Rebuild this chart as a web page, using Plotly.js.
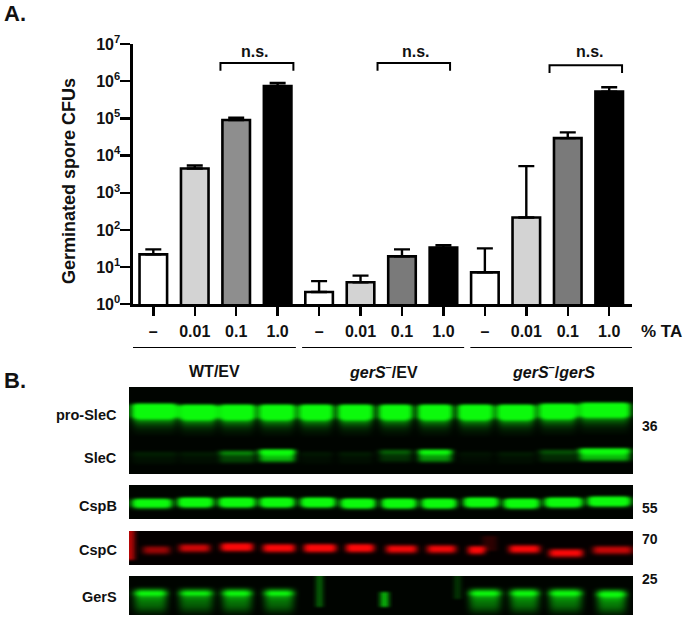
<!DOCTYPE html>
<html>
<head>
<meta charset="utf-8">
<script src="https://cdn.plot.ly/plotly-3.0.1.min.js"></script>
<style>html,body{margin:0;padding:0;background:#fff}</style>
</head>
<body>
<div id="chart" style="width:684px;height:617px"></div>
<script>
// panel A
var doseLabels = ['–','0.01','0.1','1.0','–','0.01','0.1','1.0','–','0.01','0.1','1.0'];
var cfuMean = [22,4500,90000,740000,2.15,3.9,19.5,33.5,7.2,215,29500,525000];
var cfuUpper = [30,5400,105000,890000,4.2,5.9,30,39,32,5200,42000,690000];
var barColors = ['#ffffff','#d3d3d3','#8e8e8e','#000000','#ffffff','#d3d3d3','#7a7a7a','#000000','#ffffff','#d3d3d3','#7a7a7a','#000000'];
var decades = [1,10,100,1000,10000,100000,1000000,10000000];
var decadeLabels = ['10<sup>0</sup>','10<sup>1</sup>','10<sup>2</sup>','10<sup>3</sup>','10<sup>4</sup>','10<sup>5</sup>','10<sup>6</sup>','10<sup>7</sup>'];
var bracketFrom = [1.62,5.41,9.56];
var bracketTo = [3.38,7.16,11.31];
var bracketTop = [3100000,3100000,2700000];
var bracketFoot = [1900000,1900000,1650000];
var groupFrom = [-0.49,3.59,7.65];
var groupTo = [3.44,7.5,11.58];
var groupNames = ['WT/EV','<i>gerS</i><sup>–</sup>/EV','<i>gerS</i><sup>–</sup>/<i>gerS</i>'];

var sleLaneStart = [2,49,89,129,169,208,249,288,328,367,409,449];
var sleLaneEnd = [48,88,126,166,204,244,283,323,364,406,448,501];
var proSleCTop = [14,15,15,15,15,15,15,15,15,15,14,13];
var proSleCLevel = [1,1,1,1,1,1,.95,1,1,1,1,.85];
var proSleCProfile = [.05,.5,1.2,2,2.4,2.4,2.4,2.4,2.4,2.4,2.4,2.4,2.4,2.3,2,1.5,1,.7,.55,.45,.38,.32,.27,.22,.18,.15,.12,.1,.08,.06,.05,.04,.03,.02];
var sleCTop = [62,62,61,60,62,62,60,60,62,62,60,59];
var sleCLevel = [.07,.06,.34,1,.05,.06,.24,.8,.04,.06,.2,1];
var sleCProfile = [.1,.6,1.1,1.5,1.6,1.3,1,.85,.78,.75,.72,.68,.6,.4,.2,.08];
var cspBLaneStart = [2,48,89,130,171,211,252,292,334,374,415,458];
var cspBLaneEnd = [43,84,126,165,206,246,287,327,369,410,453,501];
var cspBTop = [11,10,10,10,10,11,11,11,10,11,10,9];
var cspBLevel = [.75,1,1,1,1,1,1,1,1,1,1,1];
var cspBProfile = [.08,.5,1.2,2,2.4,2.4,2.4,2.4,2.2,1.7,1,.5,.2,.08];
var cspCLaneStart = [13,49,91,133,174,216,256,297,338,379,419,463];
var cspCLaneEnd = [41,81,124,166,207,245,288,327,356,411,454,503];
var cspCTop = [12,10,9,10,10,10,11,11,12,11,15,12];
var cspCLevel = [.5,.68,1,.92,1,1,.8,.8,.95,.85,.85,.65];
var cspCProfile = [.05,.25,.6,.95,1.15,1.2,1.2,1.15,.95,.65,.35,.15,.05];
var gerSLaneStart = [3,48,91,133,170,210,250,290,338,379,418,466];
var gerSLaneEnd = [39,85,124,166,200,240,280,320,373,411,454,498];
var gerSTop = [9,9,9,9,9,9,9,9,9,9,9,10];
var gerSLevel = [.85,.75,.85,.8,0,0,0,0,.85,.88,.88,.95];
var gerSProfile = [.05,.15,.3,.5,.7,.95,1.25,1.4,1.25,1,.8,.72,.66,.62,.58,.55,.52,.5,.48,.46,.42,.38,.34,.3,.25,.2,.16,.12,.08,.05];
// faint streaks and smears on the membranes: x from, x to, row from, row to, level
var cspCSmears = [[0,4,0,28,.7],[354,367,4,19,.16]];
var gerSSmears = [[188,192,0,30,.4],[252,258,15,30,.7],[326,330,0,22,.22]];

function px(x) { return x/684; }
function py(y) { return 1-y/617; }

// blot image: columns are 2 px and rows 1 px wide in blot space
function blotGrid(height) {
  var xs = [], ys = [], z = [];
  for (var x=0; x<=504; x+=2) xs.push(x);
  for (var r=0; r<height; r++) {
    ys.push(r);
    z.push(xs.map(function(){ return .015; }));
  }
  return {x:xs, y:ys, z:z};
}

function addBands(grid, starts, ends, tops, levels, profile, soft) {
  grid.x.forEach(function(x, c) {
    for (var lane=0; lane<starts.length; lane++) {
      if (x<starts[lane]-2 || x>ends[lane]+2) continue;
      var w = Math.min(1, (x-starts[lane]+2)/soft, (ends[lane]+2-x)/soft);
      profile.forEach(function(v, i) {
        var r = tops[lane]+i;
        if (r<grid.z.length) grid.z[r][c] += v*levels[lane]*w;
      });
    }
  });
}

// the scan saturates, then the picture is soft: clip and box blur twice
function soften(grid) {
  var z = grid.z.map(function(row){ return row.map(function(v){ return Math.min(v,1); }); });
  for (var pass=0; pass<2; pass++) {
    z = z.map(function(row, r) {
      return row.map(function(v, c) {
        var sum = 0, n = 0;
        for (var i=r-1; i<=r+1; i++) for (var j=c-1; j<=c+1; j++) {
          if (z[i] && z[i][j]!==undefined) { sum += z[i][j]; n++; }
        }
        return sum/n;
      });
    });
  }
  grid.z = z;
}

function addSmears(grid, smears) {
  smears.forEach(function(s) {
    grid.x.forEach(function(x, c) {
      if (x<s[0] || x>s[1]) return;
      for (var r=s[2]; r<s[3]; r++) grid.z[r][c] += s[4];
    });
  });
}

var sleGrid = blotGrid(87);
addBands(sleGrid, sleLaneStart, sleLaneEnd, proSleCTop, proSleCLevel, proSleCProfile, 8);
addBands(sleGrid, sleLaneStart, sleLaneEnd, sleCTop, sleCLevel, sleCProfile, 6);
soften(sleGrid);
var cspBGrid = blotGrid(34);
addBands(cspBGrid, cspBLaneStart, cspBLaneEnd, cspBTop, cspBLevel, cspBProfile, 8);
soften(cspBGrid);
var cspCGrid = blotGrid(34);
addBands(cspCGrid, cspCLaneStart, cspCLaneEnd, cspCTop, cspCLevel, cspCProfile, 6);
addSmears(cspCGrid, cspCSmears);
soften(cspCGrid);
var gerSGrid = blotGrid(39);
addBands(gerSGrid, gerSLaneStart, gerSLaneEnd, gerSTop, gerSLevel, gerSProfile, 9);
addSmears(gerSGrid, gerSSmears);
soften(gerSGrid);

var greenScale = [[0,'#000000'],[1,'#0cfa0c']];
var redScale = [[0,'#000000'],[1,'#fb0808']];

function blotTrace(grid, n, scale) {
  return {
    type:'heatmap', x:grid.x, y:grid.y, z:grid.z, xaxis:'x'+n, yaxis:'y'+n,
    colorscale:scale, zmin:0, zmax:1, zsmooth:'best', showscale:false, hoverinfo:'skip'
  };
}

var xs = doseLabels.map(function(d, i){ return i; });
var errPlus = cfuUpper.map(function(v, i){ return v-cfuMean[i]; });
var data = [{
  type:'bar', x:xs, y:cfuMean, width:.665,
  marker:{color:barColors, line:{color:'#000', width:2.6}},
  error_y:{type:'data', symmetric:false, array:errPlus, arrayminus:errPlus.map(function(){return 0;}), color:'#000', thickness:2.4, width:8}
}];
bracketFrom.forEach(function(f, i) {
  data.push({
    type:'scatter', mode:'lines', x:[f,f,bracketTo[i],bracketTo[i]],
    y:[bracketFoot[i],bracketTop[i],bracketTop[i],bracketFoot[i]],
    line:{color:'#000', width:2}, hoverinfo:'skip'
  });
});
data.push(blotTrace(sleGrid, 2, greenScale), blotTrace(cspBGrid, 3, greenScale), blotTrace(cspCGrid, 4, redScale), blotTrace(gerSGrid, 5, greenScale));

var font = 'Liberation Sans, Arial, sans-serif';
function label(text, x, y, size, anchor) {
  return {text:text, xref:'paper', yref:'paper', x:px(x), y:py(y), xanchor:anchor||'center', yanchor:'middle',
    showarrow:false, font:{family:font, size:size, color:'#111', weight:'bold'}};
}

var yTitle = label('Germinated spore CFUs', 69, 181, 18);
yTitle.textangle = -90;

var annotations = [
  yTitle,
  label('A.', 2, 13, 22, 'left'), label('B.', 2, 380, 22, 'left'),
  label('n.s.', 255, 51, 16), label('n.s.', 416, 51, 16), label('n.s.', 590, 52, 16),
  label('% TA', 661, 331, 17),
  label(groupNames[0], 214, 371, 16), label(groupNames[1], 383, 371, 16), label(groupNames[2], 553, 371, 16),
  label('pro-SleC', 119, 415, 14.5, 'right'), label('SleC', 119, 458, 14.5, 'right'),
  label('CspB', 119, 506, 14.5, 'right'), label('CspC', 119, 550, 14.5, 'right'), label('GerS', 119, 597, 14.5, 'right'),
  label('36', 640, 426, 14, 'left'), label('55', 640, 508, 14, 'left'),
  label('70', 640, 539, 14, 'left'), label('25', 640, 579, 14, 'left')
];

var shapes = groupFrom.map(function(f, i) {
  return {type:'line', xref:'x', yref:'paper', x0:f, x1:groupTo[i], y0:py(347.5), y1:py(347.5), line:{color:'#000', width:1}};
});

var layout = {
  width:684, height:617, margin:{l:0, r:0, t:0, b:0}, showlegend:false,
  paper_bgcolor:'#fff', plot_bgcolor:'#fff',
  xaxis:{
    domain:[px(133),px(632)], range:[-.49,11.55], showgrid:false, zeroline:false,
    showline:true, linecolor:'#000', linewidth:2.6, ticks:'outside', ticklen:9, tickwidth:2.4, tickcolor:'#000',
    tickmode:'array', tickvals:xs, ticktext:doseLabels, ticklabelstandoff:2,
    tickfont:{family:font, size:16, color:'#111', weight:'bold'}
  },
  yaxis:{
    type:'log', domain:[py(304.3),py(44)], range:[0,7], showgrid:false, zeroline:false,
    showline:true, linecolor:'#000', linewidth:2.6, ticks:'outside', ticklen:10, tickwidth:2.4, tickcolor:'#000',
    tickmode:'array', tickvals:decades, ticktext:decadeLabels, ticklabelstandoff:-3,
    tickfont:{family:font, size:16, color:'#111', weight:'bold'}
  },
  annotations:annotations, shapes:shapes
};

// one hidden pair of axes per blot, y runs downwards from the top of the blot
[[2,387,474,87],[3,485,519,34],[4,531,565,34],[5,576,615,39]].forEach(function(p) {
  layout['xaxis'+p[0]] = {domain:[px(129),px(633)], range:[0,504], visible:false, anchor:'y'+p[0]};
  layout['yaxis'+p[0]] = {domain:[py(p[2]),py(p[1])], range:[p[3]-.5,-.5], visible:false, anchor:'x'+p[0]};
});

Plotly.newPlot('chart', data, layout, {displayModeBar:false, staticPlot:true});
</script>
</body>
</html>
